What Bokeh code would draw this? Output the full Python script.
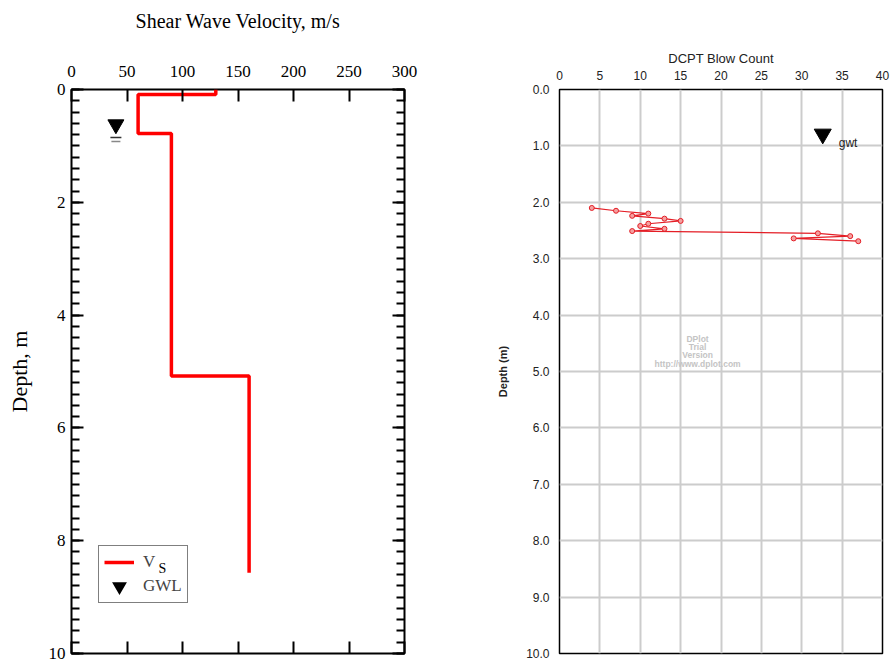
from bokeh.plotting import figure
from bokeh.models import (Range1d, LinearAxis, SingleIntervalTicker, NumeralTickFormatter,
                          Legend, LegendItem, Label)
from bokeh.layouts import row
from bokeh.embed import file_html
from bokeh.resources import INLINE
from bokeh.core.properties import value

# ---------------- data ----------------
# Left panel: shear wave velocity step profile
vs_velocity = [130, 130, 60, 60, 90, 90, 160, 160]
vs_depth = [0.0, 0.09, 0.09, 0.78, 0.78, 5.08, 5.08, 8.57]
gwl_velocity = [40]
gwl_depth = [0.62]

# Right panel: DCPT blow counts
dcpt_blows = [4, 7, 11, 9, 13, 15, 11, 10, 13, 9, 32, 36, 29, 37]
dcpt_depth = [2.10, 2.15, 2.20, 2.24, 2.29, 2.33, 2.38, 2.42, 2.47, 2.51, 2.55, 2.60, 2.64, 2.69]
gwt_blows = [32.6]
gwt_depth = [0.79]

watermark_lines = ["DPlot", "Trial", "Version", "http://www.dplot.com"]

SERIF = "Liberation Serif"
SANS = "Liberation Sans"

# ---------------- left panel ----------------
p1 = figure(width=468, height=663, x_range=Range1d(0, 300), y_range=Range1d(10, 0),
            x_axis_location="above", output_backend="svg", toolbar_location=None,
            min_border_left=71, min_border_right=64, min_border_top=89, min_border_bottom=10)
p1.grid.visible = False
p1.outline_line_color = "black"
p1.outline_line_width = 2
p1.background_fill_color = "white"
p1.border_fill_color = "white"

vs_r = p1.line(vs_velocity, vs_depth, line_color="#ff0000", line_width=3.5)
p1.scatter(gwl_velocity, gwl_depth, marker="inverted_triangle", size=16,
           fill_color="black", line_color="black")
# legend-only symbol (thick stroke enlarges the legend triangle)
gwl_legend_r = p1.scatter(gwl_velocity, gwl_depth, marker="inverted_triangle", size=10,
                          fill_color="black", line_color="black", line_width=3.5,
                          line_join="miter", visible=False)
# water-table dashes under the triangle
p1.scatter(gwl_velocity, [d + 0.23 for d in gwl_depth], marker="dash", size=11,
           line_color="#333333", line_width=1.5)
p1.scatter(gwl_velocity, [d + 0.30 for d in gwl_depth], marker="dash", size=9,
           line_color="#888888", line_width=1.5)

def style_serif_axis(ax, show_labels, major_in, minor_in):
    ax.axis_line_color = None
    ax.major_tick_in = major_in
    ax.major_tick_out = 0
    ax.minor_tick_in = minor_in
    ax.minor_tick_out = 0
    ax.major_tick_line_width = 2
    ax.minor_tick_line_width = 2
    ax.major_tick_line_color = "black"
    ax.minor_tick_line_color = "black"
    ax.major_label_text_font = SERIF
    ax.major_label_text_color = "black"
    ax.axis_label_text_font = SERIF
    ax.axis_label_text_font_style = "normal"
    ax.axis_label_text_color = "black"
    if not show_labels:
        ax.major_label_text_font_size = "0px"
        ax.major_label_text_color = None
        ax.major_label_standoff = 0

top = p1.xaxis[0]
top.ticker = SingleIntervalTicker(interval=50, num_minor_ticks=0)
style_serif_axis(top, True, 12, 0)
top.major_label_text_font_size = "17px"
top.major_label_standoff = 13
top.axis_label = "Shear Wave Velocity, m/s"
top.axis_label_text_font_size = "20px"
top.axis_label_text_line_height = 1.0
top.axis_label_standoff = 31

bottom = LinearAxis(ticker=SingleIntervalTicker(interval=50, num_minor_ticks=0))
style_serif_axis(bottom, False, 12, 0)
p1.add_layout(bottom, "below")

left = p1.yaxis[0]
left.ticker = SingleIntervalTicker(interval=2, num_minor_ticks=10)
style_serif_axis(left, True, 12, 8)
left.major_label_text_font_size = "17px"
left.major_label_standoff = 6
left.axis_label = "Depth, m"
left.axis_label_text_font_size = "22px"
left.axis_label_standoff = 14

right = LinearAxis(ticker=SingleIntervalTicker(interval=2, num_minor_ticks=10))
style_serif_axis(right, False, 12, 8)
p1.add_layout(right, "right")

legend = Legend(items=[LegendItem(label="V", renderers=[vs_r]),
                       LegendItem(label="GWL", renderers=[gwl_legend_r])],
                location=(27, 50), border_line_color="black", border_line_width=1.5,
                background_fill_alpha=0,
                label_text_font=SERIF, label_text_font_size="17px",
                glyph_width=30, glyph_height=22, label_height=22, label_standoff=9,
                padding=5, spacing=2, margin=0)
p1.add_layout(legend)

# subscript "S" of the legend label V_S (placed in data units next to the "V")
sub_label = Label(x=78.4, y=8.49, x_units="data", y_units="data", text="S",
                  text_font=SERIF, text_font_size="14px", text_color="black",
                  text_baseline="alphabetic", text_align="left", level="overlay")
p1.add_layout(sub_label)

# ---------------- right panel ----------------
p2 = figure(width=425, height=663, x_range=Range1d(0, 40), y_range=Range1d(10, 0),
            x_axis_location="above", output_backend="svg", toolbar_location=None,
            min_border_left=91, min_border_right=11, min_border_top=89, min_border_bottom=10)
p2.outline_line_color = "black"
p2.outline_line_width = 1.5
p2.background_fill_color = "white"
p2.border_fill_color = "white"

xa = p2.xaxis[0]
xa.ticker = SingleIntervalTicker(interval=5, num_minor_ticks=0)
ya = p2.yaxis[0]
ya.ticker = SingleIntervalTicker(interval=1, num_minor_ticks=0)
ya.formatter = NumeralTickFormatter(format="0.0")
for ax in (xa, ya):
    ax.axis_line_color = None
    ax.major_tick_line_color = None
    ax.minor_tick_line_color = None
    ax.major_label_text_font = SANS
    ax.major_label_text_font_size = "12px"
    ax.major_label_text_color = "#222222"
    ax.major_label_standoff = 4
    ax.axis_label_text_font = SANS
    ax.axis_label_text_color = "#222222"
xa.axis_label = "DCPT Blow Count"
xa.axis_label_text_font_size = "13px"
xa.axis_label_text_font_style = "normal"
xa.axis_label_standoff = 2
ya.axis_label = "Depth (m)"
ya.axis_label_text_font_size = "11px"
ya.axis_label_text_font_style = "bold"
ya.axis_label_standoff = 14

p2.xgrid.grid_line_color = "#cccccc"
p2.xgrid.grid_line_width = 2
p2.ygrid.grid_line_color = "#cccccc"
p2.ygrid.grid_line_width = 2

p2.text(x=[17.1] * 4, y=[4.43, 4.57, 4.71, 4.87], text=watermark_lines,
        text_align="center", text_baseline="middle", text_font=value(SANS),
        text_font_size="8.5px", text_font_style="bold", text_color="#c4c4c4")

p2.line(dcpt_blows, dcpt_depth, line_color="#e41e26", line_width=1.2)
p2.scatter(dcpt_blows, dcpt_depth, marker="circle", size=5, line_color="#e41e26",
           fill_color="#f4a0a0", line_width=1)

p2.scatter(gwt_blows, gwt_depth, marker="inverted_triangle", size=17,
           fill_color="black", line_color="black")
p2.text(x=gwt_blows, y=gwt_depth, text=["gwt"], x_offset=16, y_offset=9,
        text_align="left", text_baseline="middle", text_font=value(SANS),
        text_font_size="12px", text_color="#222222")

layout = row(p1, p2)
open("out.html", "w").write(file_html(layout, INLINE))
